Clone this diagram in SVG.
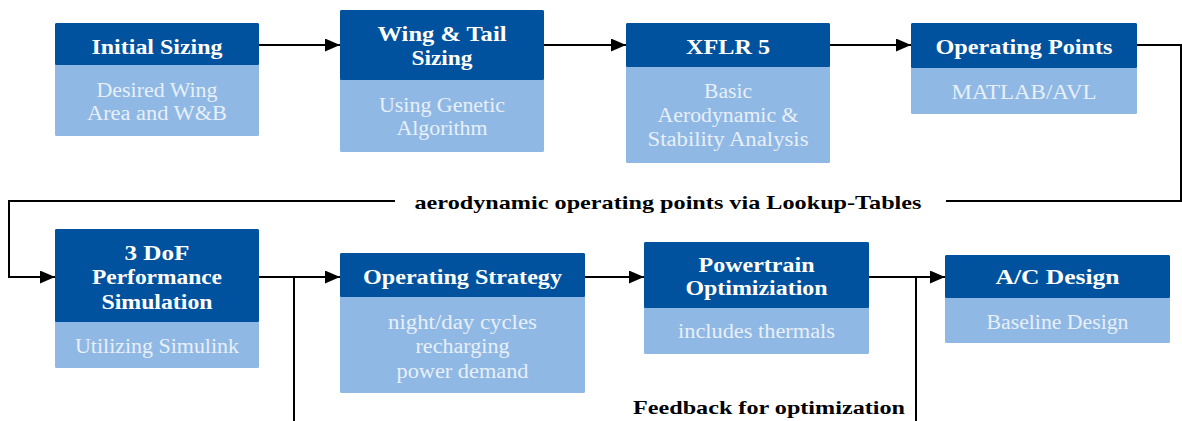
<svg xmlns="http://www.w3.org/2000/svg" width="1182" height="421" viewBox="0 0 1182 421">
<style>
.hd{fill:#00529E}
.bd{fill:#8FB9E4}
.ht{font-family:"Liberation Serif","Times New Roman","DejaVu Serif",serif;font-weight:bold;font-size:20px;fill:#FFFFFF;text-anchor:middle}
.bt{font-family:"Liberation Serif","Times New Roman","DejaVu Serif",serif;font-size:20px;fill:#E8EFF8;text-anchor:middle}
.lb{font-family:"Liberation Serif","Times New Roman","DejaVu Serif",serif;font-weight:bold;font-size:19px;fill:#000;text-anchor:middle}
.ln{fill:none;stroke:#000;stroke-width:2}
</style>
<defs>
<marker id="ah" viewBox="0 0 15 13" refX="15" refY="6.5" markerWidth="15" markerHeight="13" markerUnits="userSpaceOnUse" orient="auto">
<path d="M0,0 L15,6.5 L0,13 Z" fill="#000"/>
</marker>
</defs>
<rect width="1182" height="421" fill="#fff"/>

<g id="connectors">
<path class="ln" d="M259,45 H340" marker-end="url(#ah)"/>
<path class="ln" d="M544,45 H626" marker-end="url(#ah)"/>
<path class="ln" d="M830,45 H911" marker-end="url(#ah)"/>
<path class="ln" d="M1137,45 H1181 V201 H946"/>
<path class="ln" d="M395,201 H9 V277 H55" marker-end="url(#ah)"/>
<path class="ln" d="M259,277 H340" marker-end="url(#ah)"/>
<path class="ln" d="M294,277 V421"/>
<path class="ln" d="M585,277 H644" marker-end="url(#ah)"/>
<path class="ln" d="M869,277 H945" marker-end="url(#ah)"/>
<path class="ln" d="M916,277 V421"/>
<text class="lb" x="668" y="209" textLength="507" lengthAdjust="spacingAndGlyphs">aerodynamic operating points via Lookup-Tables</text>
<text class="lb" x="769" y="414" textLength="272" lengthAdjust="spacingAndGlyphs">Feedback for optimization</text>
</g>

<g id="initial-sizing">
<rect class="bd" x="55" y="23" width="204" height="113" rx="1.5"/>
<rect class="hd" x="55" y="23" width="204" height="42" rx="1.5"/>
<text class="ht" x="157" y="53.5" textLength="131" lengthAdjust="spacingAndGlyphs">Initial Sizing</text>
<text class="bt" x="157" y="96.5" textLength="121" lengthAdjust="spacingAndGlyphs">Desired Wing</text>
<text class="bt" x="157" y="119.5" textLength="140" lengthAdjust="spacingAndGlyphs">Area and W&amp;B</text>
</g>

<g id="wing-tail-sizing">
<rect class="bd" x="340" y="10" width="204" height="142" rx="1.5"/>
<rect class="hd" x="340" y="10" width="204" height="70" rx="1.5"/>
<text class="ht" x="442" y="40.5" textLength="129" lengthAdjust="spacingAndGlyphs">Wing &amp; Tail</text>
<text class="ht" x="442" y="64.5" textLength="61" lengthAdjust="spacingAndGlyphs">Sizing</text>
<text class="bt" x="442" y="111.5" textLength="126" lengthAdjust="spacingAndGlyphs">Using Genetic</text>
<text class="bt" x="442" y="134.5" textLength="91" lengthAdjust="spacingAndGlyphs">Algorithm</text>
</g>

<g id="xflr5">
<rect class="bd" x="626" y="23" width="204" height="140" rx="1.5"/>
<rect class="hd" x="626" y="23" width="204" height="44" rx="1.5"/>
<text class="ht" x="728" y="53.5" textLength="84" lengthAdjust="spacingAndGlyphs">XFLR 5</text>
<text class="bt" x="728" y="97.5" textLength="48" lengthAdjust="spacingAndGlyphs">Basic</text>
<text class="bt" x="728" y="121.5" textLength="141" lengthAdjust="spacingAndGlyphs">Aerodynamic &amp;</text>
<text class="bt" x="728" y="146" textLength="161" lengthAdjust="spacingAndGlyphs">Stability Analysis</text>
</g>

<g id="operating-points">
<rect class="bd" x="911" y="23" width="226" height="91" rx="1.5"/>
<rect class="hd" x="911" y="23" width="226" height="45" rx="1.5"/>
<text class="ht" x="1024" y="53.5" textLength="177" lengthAdjust="spacingAndGlyphs">Operating Points</text>
<text class="bt" x="1024" y="98.5" textLength="145" lengthAdjust="spacingAndGlyphs">MATLAB/AVL</text>
</g>

<g id="performance-simulation">
<rect class="bd" x="55" y="229" width="204" height="139" rx="1.5"/>
<rect class="hd" x="55" y="229" width="204" height="93" rx="1.5"/>
<text class="ht" x="157" y="260" textLength="65" lengthAdjust="spacingAndGlyphs">3 DoF</text>
<text class="ht" x="157" y="284" textLength="130" lengthAdjust="spacingAndGlyphs">Performance</text>
<text class="ht" x="157" y="308.5" textLength="111" lengthAdjust="spacingAndGlyphs">Simulation</text>
<text class="bt" x="157" y="352.5" textLength="164" lengthAdjust="spacingAndGlyphs">Utilizing Simulink</text>
</g>

<g id="operating-strategy">
<rect class="bd" x="340" y="253" width="245" height="140" rx="1.5"/>
<rect class="hd" x="340" y="253" width="245" height="44" rx="1.5"/>
<text class="ht" x="462.5" y="284" textLength="199" lengthAdjust="spacingAndGlyphs">Operating Strategy</text>
<text class="bt" x="462.5" y="329" textLength="149" lengthAdjust="spacingAndGlyphs">night/day cycles</text>
<text class="bt" x="462.5" y="352.5" textLength="94" lengthAdjust="spacingAndGlyphs">recharging</text>
<text class="bt" x="462.5" y="377.5" textLength="132" lengthAdjust="spacingAndGlyphs">power demand</text>
</g>

<g id="powertrain-optimization">
<rect class="bd" x="644" y="242" width="225" height="112" rx="1.5"/>
<rect class="hd" x="644" y="242" width="225" height="66" rx="1.5"/>
<text class="ht" x="756.5" y="271.5" textLength="116" lengthAdjust="spacingAndGlyphs">Powertrain</text>
<text class="ht" x="756.5" y="295" textLength="142" lengthAdjust="spacingAndGlyphs">Optimiziation</text>
<text class="bt" x="756.5" y="338" textLength="157" lengthAdjust="spacingAndGlyphs">includes thermals</text>
</g>

<g id="ac-design">
<rect class="bd" x="945" y="255" width="225" height="88" rx="1.5"/>
<rect class="hd" x="945" y="255" width="225" height="43" rx="1.5"/>
<text class="ht" x="1057.5" y="284" textLength="124" lengthAdjust="spacingAndGlyphs">A/C Design</text>
<text class="bt" x="1057.5" y="328.5" textLength="142" lengthAdjust="spacingAndGlyphs">Baseline Design</text>
</g>
</svg>
